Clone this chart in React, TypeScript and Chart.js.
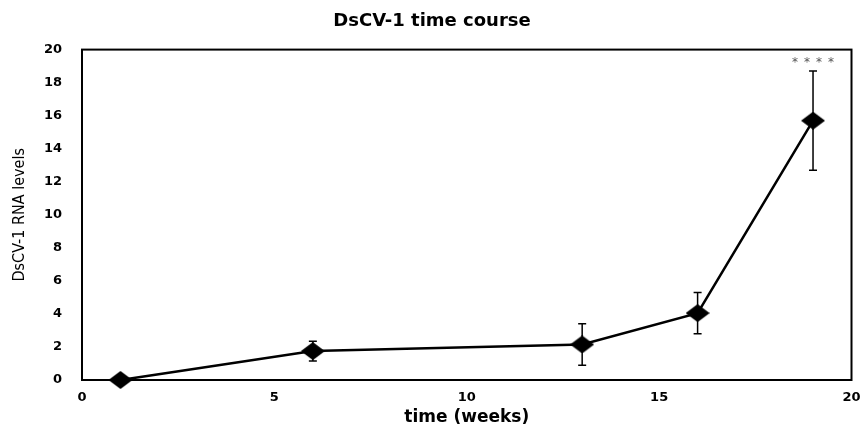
import React, { useEffect, useRef } from "react";
import { Chart, registerables } from "chart.js";

Chart.register(...registerables);

const chartTitle = "DsCV-1 time course";
const xAxisTitle = "time (weeks)";
const yAxisTitle = "DsCV-1 RNA levels";
const weeks = [1, 6, 13, 16, 19];
const rnaLevels = [0, 1.75, 2.15, 4.05, 15.7];
const rnaErrors = [0, 0.6, 1.25, 1.25, 3.0];
const significance = ["", "", "", "", "****"];
const xMin = 0;
const xMax = 20;
const xStep = 5;
const yMin = 0;
const yMax = 20;
const yStep = 2;

function makeDiamond(): HTMLCanvasElement {
  const c = document.createElement("canvas");
  c.width = 24;
  c.height = 18;
  const ctx = c.getContext("2d")!;
  ctx.fillStyle = "#000";
  ctx.beginPath();
  ctx.moveTo(12, 0);
  ctx.lineTo(24, 9);
  ctx.lineTo(12, 18);
  ctx.lineTo(0, 9);
  ctx.closePath();
  ctx.fill();
  return c;
}

const errorBarPlugin = {
  id: "errorBars",
  beforeDatasetsDraw(chart: any) {
    const { ctx } = chart;
    const xs = chart.scales.x;
    const ys = chart.scales.y;
    ctx.save();
    ctx.strokeStyle = "#000";
    ctx.lineWidth = 1.5;
    weeks.forEach((w, i) => {
      const e = rnaErrors[i];
      if (!e) return;
      const px = xs.getPixelForValue(w);
      const top = ys.getPixelForValue(rnaLevels[i] + e);
      const bot = ys.getPixelForValue(rnaLevels[i] - e);
      ctx.beginPath();
      ctx.moveTo(px, top);
      ctx.lineTo(px, bot);
      ctx.moveTo(px - 4, top);
      ctx.lineTo(px + 4, top);
      ctx.moveTo(px - 4, bot);
      ctx.lineTo(px + 4, bot);
      ctx.stroke();
    });
    ctx.restore();
  },
  afterDatasetsDraw(chart: any) {
    const { ctx } = chart;
    const xs = chart.scales.x;
    const ys = chart.scales.y;
    ctx.save();
    ctx.fillStyle = "#555";
    ctx.font = "12px 'DejaVu Sans'";
    ctx.textAlign = "center";
    ctx.textBaseline = "middle";
    (ctx as any).letterSpacing = "6px";
    weeks.forEach((w, i) => {
      const s = significance[i];
      if (!s) return;
      const px = xs.getPixelForValue(w);
      const py = ys.getPixelForValue(rnaLevels[i] + rnaErrors[i]) - 8;
      ctx.fillText(s, px + 3, py);
    });
    ctx.restore();
  },
  afterDraw(chart: any) {
    const { ctx, chartArea } = chart;
    ctx.save();
    ctx.strokeStyle = "#000";
    ctx.lineWidth = 2;
    ctx.strokeRect(
      chartArea.left,
      chartArea.top,
      chartArea.right - chartArea.left,
      chartArea.bottom - chartArea.top
    );
    ctx.restore();
  },
};

export default function App() {
  const ref = useRef<HTMLCanvasElement | null>(null);
  useEffect(() => {
    document.body.style.margin = "0";
    const canvas = ref.current!;
    const diamond = makeDiamond();
    const chart = new Chart(canvas, {
      type: "line",
      data: {
        datasets: [
          {
            data: weeks.map((w, i) => ({ x: w, y: rnaLevels[i] })),
            borderColor: "#000",
            backgroundColor: "#000",
            borderWidth: 2.5,
            pointStyle: diamond as any,
            pointRadius: 10,
            clip: false as any,
            tension: 0,
          },
        ],
      },
      options: {
        animation: false,
        responsive: false,
        layout: { padding: { left: 0, right: 0, top: 0, bottom: 0 } },
        plugins: {
          legend: { display: false },
          tooltip: { enabled: false },
          title: {
            display: true,
            text: chartTitle,
            color: "#000",
            font: { family: "'DejaVu Sans'", size: 18, weight: "bold" },
            padding: { top: 11, bottom: 17 },
          },
        },
        scales: {
          x: {
            type: "linear",
            min: xMin,
            max: xMax,
            grid: { display: false, drawTicks: false },
            border: { display: false },
            ticks: {
              stepSize: xStep,
              color: "#000",
              padding: 10,
              font: { family: "'DejaVu Sans'", size: 13, weight: "bold" },
            },
            title: {
              display: true,
              text: xAxisTitle,
              color: "#000",
              font: { family: "'DejaVu Sans'", size: 17, weight: "bold" },
              padding: { top: 0, bottom: 4 },
            },
            afterFit(scale: any) {
              scale.height = 52;
              scale.paddingRight = 12;
              scale.paddingLeft = 0;
            },
          },
          y: {
            type: "linear",
            min: yMin,
            max: yMax,
            grid: { display: false, drawTicks: false },
            border: { display: false },
            ticks: {
              stepSize: yStep,
              color: "#000",
              padding: 20,
              font: { family: "'DejaVu Sans'", size: 13, weight: "bold" },
            },
            title: {
              display: true,
              text: yAxisTitle,
              color: "#000",
              font: { family: "'DejaVu Sans Condensed'", size: 16 },
              padding: { top: 10, bottom: 0 },
            },
            afterFit(scale: any) {
              scale.width = 82;
            },
          },
        },
      },
      plugins: [errorBarPlugin],
    });
    return () => chart.destroy();
  }, []);
  return (
    <div style={{ width: 864, height: 432 }}>
      <canvas ref={ref} width={864} height={432} style={{ display: "block" }} />
    </div>
  );
}
